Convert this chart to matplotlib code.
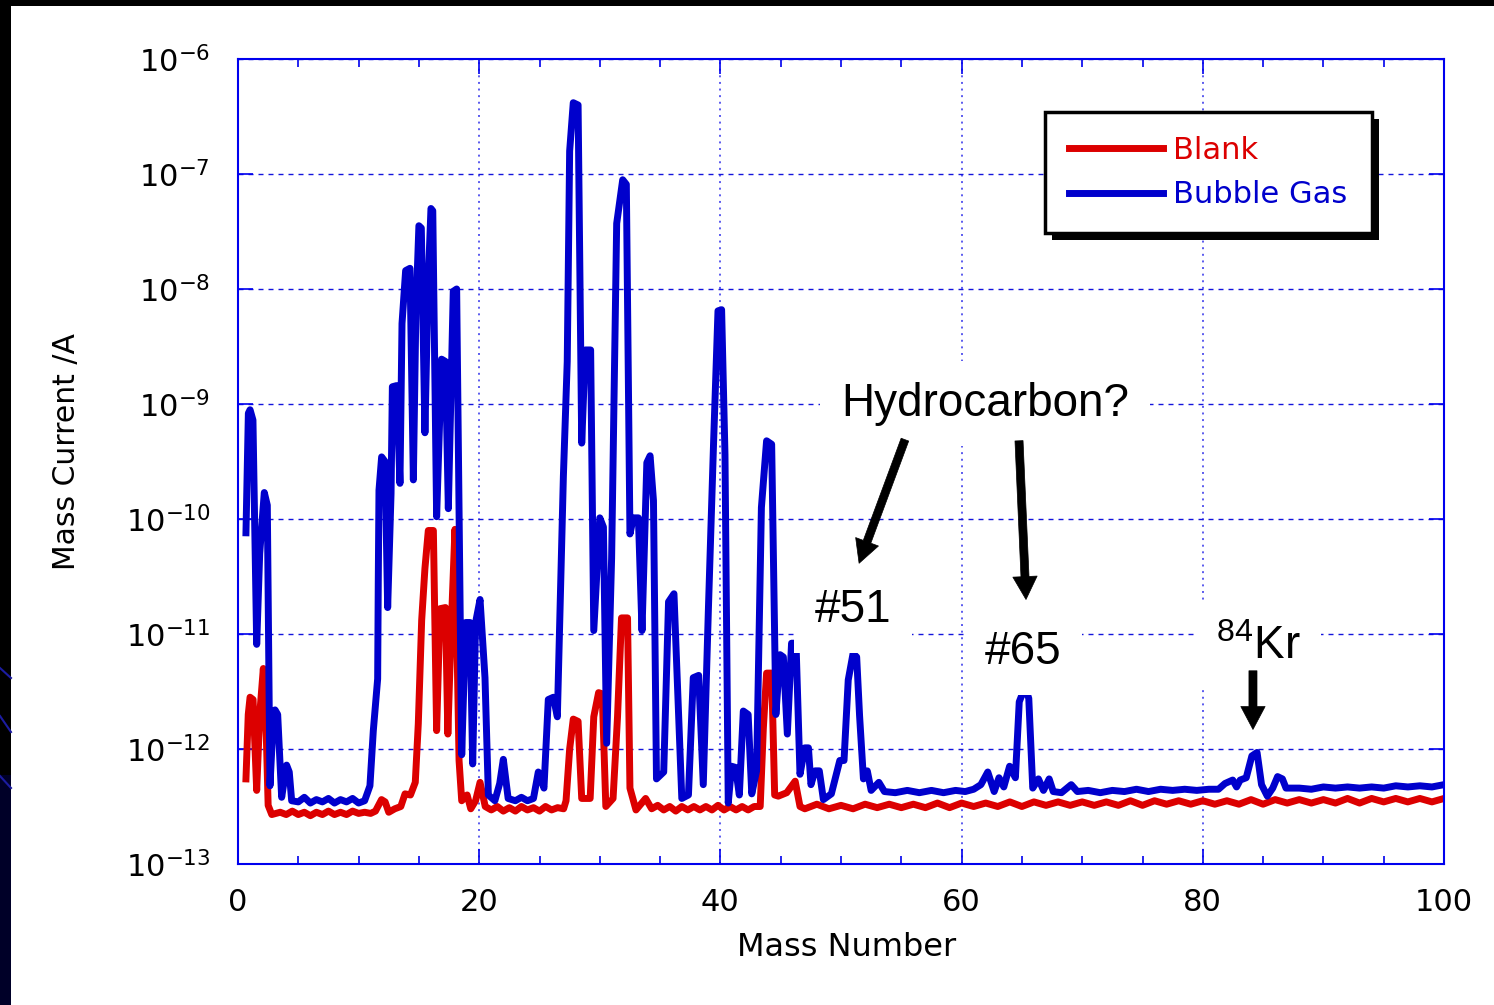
import matplotlib
matplotlib.use('Agg')
import matplotlib.pyplot as plt
import numpy as np
from matplotlib import font_manager
from matplotlib.patches import Rectangle
from matplotlib.lines import Line2D
from matplotlib.transforms import IdentityTransform
from matplotlib.ticker import FixedLocator, FixedFormatter, MultipleLocator, NullLocator

# (mass number, log10 of current in A)
blank_points = [
    (0.66, -12.26), (0.85, -11.7), (1.0, -11.55), (1.25, -11.57), (1.55, -12.36),
    (1.8, -11.7), (2.1, -11.3), (2.35, -11.9), (2.5, -12.49), (2.8, -12.57),
    (3.5, -12.55), (4.0, -12.57), (4.5, -12.54), (5.0, -12.57), (5.5, -12.55),
    (6.0, -12.58), (6.5, -12.55), (7.0, -12.57), (7.5, -12.54), (8.0, -12.57),
    (8.5, -12.55), (9.0, -12.57), (9.5, -12.54), (10.0, -12.56), (10.5, -12.55),
    (11.0, -12.56), (11.4, -12.54), (11.9, -12.44), (12.2, -12.46), (12.5, -12.55),
    (13.0, -12.52), (13.5, -12.5), (13.85, -12.39), (14.3, -12.4), (14.7, -12.29),
    (14.95, -11.78), (15.23, -10.88), (15.5, -10.43), (15.78, -10.1), (16.2, -10.1),
    (16.47, -11.84), (16.75, -10.78), (17.2, -10.77), (17.4, -11.87), (17.66, -11.0),
    (17.99, -10.09), (18.33, -12.1), (18.55, -12.45), (19.0, -12.4), (19.3, -12.52),
    (19.7, -12.45), (20.07, -12.29), (20.5, -12.5), (21.0, -12.53), (21.5, -12.5),
    (22.0, -12.54), (22.5, -12.51), (23.0, -12.54), (23.5, -12.5), (24.0, -12.53),
    (24.5, -12.51), (25.0, -12.54), (25.5, -12.5), (26.0, -12.53), (26.5, -12.51),
    (27.0, -12.52), (27.2, -12.45), (27.5, -12.0), (27.8, -11.74), (28.2, -11.76),
    (28.5, -12.43), (29.2, -12.43), (29.5, -11.72), (29.9, -11.51), (30.2, -11.52),
    (30.5, -12.5), (31.1, -12.43), (31.47, -11.72), (31.8, -10.86), (32.3, -10.86),
    (32.5, -12.34), (33.0, -12.53), (33.8, -12.43), (34.3, -12.52), (34.8, -12.49),
    (35.3, -12.53), (35.8, -12.5), (36.3, -12.54), (36.8, -12.5), (37.3, -12.53),
    (37.8, -12.5), (38.3, -12.53), (38.8, -12.5), (39.3, -12.53), (39.8, -12.49),
    (40.3, -12.53), (40.8, -12.5), (41.3, -12.53), (41.8, -12.5), (42.3, -12.53),
    (42.8, -12.5), (43.3, -12.5), (43.56, -11.82), (43.83, -11.34), (44.25, -11.34),
    (44.5, -12.4), (44.8, -12.41), (45.5, -12.38), (46.2, -12.28), (46.6, -12.5),
    (47, -12.52), (48, -12.48), (49, -12.52), (50, -12.49), (51, -12.52),
    (52, -12.48), (53, -12.51), (54, -12.48), (55, -12.51), (56, -12.48),
    (57, -12.51), (58, -12.47), (59, -12.51), (60, -12.47), (61, -12.5),
    (62, -12.47), (63, -12.5), (64, -12.46), (65, -12.5), (66, -12.46),
    (67, -12.49), (68, -12.46), (69, -12.49), (70, -12.46), (71, -12.49),
    (72, -12.46), (73, -12.49), (74, -12.45), (75, -12.49), (76, -12.45),
    (77, -12.48), (78, -12.45), (79, -12.48), (80, -12.45), (81, -12.48),
    (82, -12.45), (83, -12.48), (84, -12.44), (85, -12.48), (86, -12.44),
    (87, -12.47), (88, -12.44), (89, -12.47), (90, -12.44), (91, -12.47),
    (92, -12.43), (93, -12.47), (94, -12.43), (95, -12.46), (96, -12.43),
    (97, -12.46), (98, -12.43), (99, -12.46), (100, -12.43),
]

gas_points = [
    (0.66, -10.12), (0.86, -9.08), (1.0, -9.05), (1.24, -9.14), (1.55, -11.09),
    (1.8, -10.3), (2.18, -9.77), (2.43, -9.88), (2.65, -12.32), (2.85, -11.9),
    (3.07, -11.66), (3.29, -11.7), (3.62, -12.42), (4.03, -12.14), (4.25, -12.2),
    (4.45, -12.45), (5.0, -12.46), (5.5, -12.42), (6.0, -12.47), (6.5, -12.44),
    (7.0, -12.46), (7.5, -12.43), (8.0, -12.47), (8.5, -12.44), (9.0, -12.46),
    (9.5, -12.43), (10.0, -12.47), (10.5, -12.45), (10.94, -12.32), (11.22, -11.84),
    (11.58, -11.39), (11.63, -10.56), (11.69, -9.75), (11.91, -9.46), (12.19, -9.5),
    (12.41, -10.77), (12.69, -9.78), (12.8, -8.85), (13.15, -8.84), (13.43, -9.69),
    (13.6, -8.3), (13.9, -7.84), (14.26, -7.82), (14.54, -9.66), (14.75, -8.2),
    (15.0, -7.45), (15.2, -7.47), (15.5, -9.25), (15.75, -8.0), (16.0, -7.3),
    (16.15, -7.32), (16.47, -9.98), (16.88, -8.61), (17.2, -8.63), (17.44, -9.91),
    (17.85, -8.02), (18.13, -8.0), (18.55, -12.05), (18.88, -10.9), (19.24, -10.9),
    (19.46, -12.13), (19.7, -10.9), (20.07, -10.7), (20.48, -11.38), (20.76, -12.4),
    (21.3, -12.45), (21.7, -12.3), (22.0, -12.09), (22.4, -12.43), (23.0, -12.45),
    (23.5, -12.42), (24.0, -12.45), (24.5, -12.43), (24.9, -12.2), (25.37, -12.34),
    (25.73, -11.57), (26.15, -11.55), (26.48, -11.72), (26.7, -10.8), (26.98, -9.63),
    (27.3, -8.63), (27.5, -6.8), (27.8, -6.38), (28.2, -6.4), (28.5, -9.34),
    (28.8, -8.53), (29.24, -8.53), (29.5, -10.97), (30.0, -9.99), (30.3, -10.07),
    (30.57, -11.95), (30.98, -10.34), (31.4, -7.43), (31.9, -7.05), (32.2, -7.09),
    (32.5, -10.13), (32.78, -9.99), (33.2, -9.99), (33.5, -10.97), (33.9, -9.51),
    (34.17, -9.45), (34.45, -9.84), (34.7, -12.26), (35.3, -12.2), (35.7, -10.72),
    (36.15, -10.65), (36.5, -11.6), (36.8, -12.43), (37.35, -12.4), (37.75, -11.38),
    (38.2, -11.36), (38.58, -12.31), (39.0, -10.8), (39.43, -9.35), (39.8, -8.19),
    (40.1, -8.18), (40.38, -9.44), (40.65, -12.47), (40.93, -12.15), (41.25, -12.16),
    (41.57, -12.4), (41.9, -11.67), (42.3, -11.7), (42.6, -12.39), (43.0, -12.19),
    (43.4, -9.9), (43.83, -9.32), (44.25, -9.35), (44.6, -11.7), (44.95, -11.18),
    (45.22, -11.2), (45.55, -11.87), (45.9, -11.08), (46.27, -11.08), (46.6, -12.22),
    (47.0, -11.99), (47.3, -11.99), (47.51, -12.31), (47.85, -12.19), (48.2, -12.19),
    (48.54, -12.44), (49.2, -12.39), (49.9, -12.1), (50.25, -12.1), (50.6, -11.4),
    (51.0, -11.17), (51.3, -11.2), (51.54, -11.71), (51.86, -12.26), (52.18, -12.19),
    (52.5, -12.36), (53.14, -12.29), (53.6, -12.37), (54.5, -12.38), (55.5, -12.36),
    (56.5, -12.38), (57.5, -12.36), (58.5, -12.38), (59.5, -12.36), (60.3, -12.37),
    (61.0, -12.35), (61.6, -12.31), (62.17, -12.2), (62.7, -12.37), (63.1, -12.25),
    (63.5, -12.33), (63.98, -12.15), (64.46, -12.25), (64.78, -11.59), (65.26, -11.46),
    (65.57, -11.56), (65.9, -12.34), (66.37, -12.26), (66.79, -12.36), (67.26, -12.26),
    (67.6, -12.37), (68.28, -12.38), (69.09, -12.31), (69.6, -12.37), (70.5, -12.36),
    (71.5, -12.38), (72.5, -12.36), (73.5, -12.37), (74.5, -12.35), (75.5, -12.37),
    (76.5, -12.35), (77.5, -12.36), (78.5, -12.35), (79.5, -12.36), (80.5, -12.35),
    (81.3, -12.35), (81.84, -12.3), (82.48, -12.27), (82.8, -12.33), (83.1, -12.27),
    (83.6, -12.25), (84.07, -12.06), (84.5, -12.03), (84.87, -12.31), (85.35, -12.41),
    (85.8, -12.34), (86.2, -12.24), (86.6, -12.26), (86.9, -12.34), (88, -12.34),
    (89, -12.35), (90, -12.33), (91, -12.34), (92, -12.33), (93, -12.34),
    (94, -12.33), (95, -12.34), (96, -12.32), (97, -12.33), (98, -12.32),
    (99, -12.33), (100, -12.31),
]

x_ticks = [0, 20, 40, 60, 80, 100]
y_exponents = [-13, -12, -11, -10, -9, -8, -7, -6]

# annotation labels: (text, mass, log10 current at baseline)
labels = [
    ('Hydrocarbon?', 61.94, -9.10),
    ('#51', 51.02, -10.896),
    ('#65', 65.1, -11.26),
    (r'$^{\mathregular{84}}$Kr', 84.6, -11.217),
]
# arrows: (tail mass, tail log, tip mass, tip log)
arrows = [
    (55.3, -9.31, 51.5, -10.385),
    (64.76, -9.32, 65.34, -10.70),
    (84.16, -11.32, 84.16, -11.83),
]

RED = '#dc0000'
BLUE = '#0000cc'
AXBLUE = '#0000ee'

W, H = 1494, 1005
fig = plt.figure(figsize=(W / 100, H / 100), dpi=100)
fig.patch.set_facecolor('white')

# dark slide frame on the top and left edge
fig.patches.append(Rectangle((0, 1 - 6 / H), 1, 6 / H, transform=fig.transFigure,
                             fc='black', ec='none'))
fig.patches.append(Rectangle((0, 0), 11 / W, 1, transform=fig.transFigure,
                             fc='black', ec='none'))
fig.patches.append(Rectangle((0, 0), 11 / W, 230 / H, transform=fig.transFigure,
                             fc='#000028', ec='none'))
for y0, y1 in [(668, 678), (716, 732), (776, 788)]:
    fig.lines.append(Line2D([0, 11 / W], [1 - y0 / H, 1 - y1 / H],
                            transform=fig.transFigure, color='#1c1ca0', lw=1.5))

ax = fig.add_axes([238 / W, 1 - 864 / H, 1206 / W, 805 / H])

bm, bl = np.array(blank_points).T
gm, gl = np.array(gas_points).T
ax.plot(bm, 10 ** bl, color=RED, lw=5, label='Blank', solid_joinstyle='round')
ax.plot(gm, 10 ** gl, color=BLUE, lw=5, label='Bubble Gas', solid_joinstyle='round')

ax.set_yscale('log')
ax.set_xlim(0, 100)
ax.set_ylim(1e-13, 1e-6)

ax.set_xticks(x_ticks)
ax.xaxis.set_minor_locator(MultipleLocator(5))
ax.yaxis.set_major_locator(FixedLocator([10.0 ** e for e in y_exponents]))
ax.yaxis.set_major_formatter(FixedFormatter(
    [r'$\mathregular{10^{%d}}$' % e for e in y_exponents]))
ax.yaxis.set_minor_locator(NullLocator())

ax.tick_params(which='both', direction='in', top=True, right=True, colors=AXBLUE,
               labelcolor='black')
ax.tick_params(which='major', length=11, width=1.2, labelsize=22)
ax.tick_params(which='minor', length=6, width=1.2)
ax.tick_params(axis='x', which='major', pad=17)
ax.tick_params(axis='y', which='major', pad=20)

for sp in ax.spines.values():
    sp.set_color(AXBLUE)
    sp.set_linewidth(1.5)

ax.grid(True, axis='y', which='major', color='#1414dd', lw=1.0,
        linestyle=(0, (3.6, 3.6)))
ax.grid(True, axis='x', which='major', color='#5a5aee', lw=1.4,
        linestyle=(0, (1.0, 2.4)))

ax.set_xlabel('Mass Number', fontsize=23)
ax.xaxis.set_label_coords(0.505, -0.084)

installed = {f.name for f in font_manager.fontManager.ttflist}
if 'Liberation Sans Narrow' in installed:
    ylab_font, ylab_size, ylab_x = 'Liberation Sans Narrow', 31, -0.1235
else:
    ylab_font, ylab_size, ylab_x = 'DejaVu Sans', 21.5, -0.13
ax.set_ylabel('Mass Current /A', fontsize=ylab_size, family=ylab_font)
ax.yaxis.set_label_coords(ylab_x, 0.512)

for text, m, lg in labels:
    ax.text(m, 10 ** lg, text, ha='center', va='baseline', fontsize=33,
            family='Liberation Sans', zorder=3,
            bbox=dict(boxstyle='square,pad=0.45', fc='white', ec='none'))

for tm, tl, hm, hl in arrows:
    ax.annotate('', xy=(hm, 10 ** hl), xytext=(tm, 10 ** tl), zorder=4,
                arrowprops=dict(arrowstyle='simple,head_length=1.65,head_width=1.75,tail_width=0.58',
                                mutation_scale=10, fc='black', ec='black', lw=0.5,
                                shrinkA=0, shrinkB=0))

leg = ax.legend(loc='upper left', bbox_to_anchor=(0.669, 0.934), fontsize=22,
                frameon=True, fancybox=False, edgecolor='black', framealpha=1,
                handlelength=3.1, handletextpad=0.33, borderpad=0.78,
                labelspacing=0.5, borderaxespad=0, labelcolor='linecolor')
leg.get_frame().set_linewidth(2.5)
leg.set_zorder(6)

# solid black drop shadow behind the legend box
fig.canvas.draw()
bb = leg.get_frame().get_window_extent(fig.canvas.get_renderer())
ax.add_artist(Rectangle((bb.x0 + 7, bb.y0 - 7), bb.width, bb.height,
                        transform=IdentityTransform(), fc='black', ec='none',
                        zorder=5.9))

fig.savefig('out.png', dpi=100, facecolor=fig.get_facecolor())
